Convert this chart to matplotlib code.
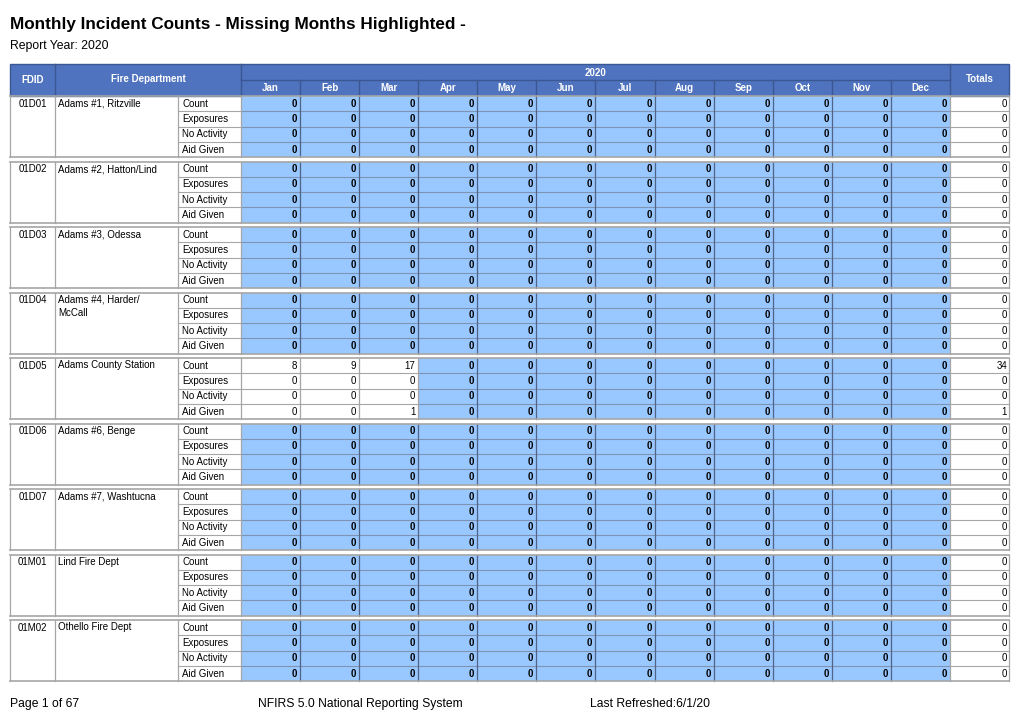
import matplotlib.pyplot as plt
from matplotlib.patches import Rectangle

plt.rcParams['font.family'] = ['Liberation Sans', 'DejaVu Sans']

report_year = "2020"
fdids = ["01D01", "01D02", "01D03", "01D04", "01D05", "01D06", "01D07", "01M01", "01M02"]
departments = ["Adams #1, Ritzville", "Adams #2, Hatton/Lind", "Adams #3, Odessa",
               "Adams #4, Harder/\nMcCall", "Adams County Station", "Adams #6, Benge",
               "Adams #7, Washtucna", "Lind Fire Dept", "Othello Fire Dept"]
measures = ["Count", "Exposures", "No Activity", "Aid Given"]
months = ["Jan", "Feb", "Mar", "Apr", "May", "Jun", "Jul", "Aug", "Sep", "Oct", "Nov", "Dec"]

# months that were actually reported (everything after is missing -> highlighted)
reported_months = [0, 0, 0, 0, 3, 0, 0, 0, 0]
# reported values for 01D05 Adams County Station
station_count = [8, 9, 17]
station_exposures = [0, 0, 0]
station_no_activity = [0, 0, 0]
station_aid_given = [0, 0, 1]
station_values = [station_count, station_exposures, station_no_activity, station_aid_given]

# colours
header_blue = "#4f73be"
header_line = "#3b5793"
missing_blue = "#99c7ff"
blue_vline = "#4f6487"
blue_hline = "#7f93b3"
grid_gray = "#a6a6a6"

W, H = 1020, 721
fig = plt.figure(figsize=(W / 100, H / 100), dpi=100)
ax = fig.add_axes([0, 0, 1, 1])
ax.set_xlim(0, W)
ax.set_ylim(H, 0)
ax.axis('off')

# column layout
x0 = 10
widths = [45, 123, 63] + [59.08] * 12 + [59]
edges = [x0]
for w in widths:
    edges.append(edges[-1] + w)
month_left = edges[3]
tot_left, tot_right = edges[15], edges[16]

head_top, head_mid, head_bot = 64, 80, 96
row_h = 15.3
group_gap = 4.3
group_h = row_h * 4

fs = 7

# title
ax.text(x0, 24, "Monthly Incident Counts - Missing Months Highlighted -", fontsize=12.3,
        fontweight='bold', va='center', ha='left')
ax.text(x0, 46.5, f"Report Year: {report_year}", fontsize=8.8, va='center', ha='left')

# header
ax.add_patch(Rectangle((x0, head_top), tot_right - x0, head_bot - head_top,
                       facecolor=header_blue, edgecolor=header_line, lw=1))
ax.plot([month_left, tot_left], [head_mid, head_mid], color=header_line, lw=1)
for xe in [edges[1], edges[3], edges[15]]:
    ax.plot([xe, xe], [head_top, head_bot], color=header_line, lw=1)
for xe in edges[4:15]:
    ax.plot([xe, xe], [head_mid, head_bot], color=header_line, lw=1)
hdr = dict(color='white', fontsize=fs, fontweight='bold', va='center', ha='center')
ax.text((edges[0] + edges[1]) / 2, (head_top + head_bot) / 2, "FDID", **hdr)
ax.text((edges[1] + edges[3]) / 2, (head_top + head_bot) / 2 - 1, "Fire Department", **hdr)
ax.text((month_left + tot_left) / 2, (head_top + head_mid) / 2 + 0.5, report_year, **hdr)
ax.text((tot_left + tot_right) / 2, (head_top + head_bot) / 2 - 1, "Totals", **hdr)
for m, month in enumerate(months):
    ax.text((edges[3 + m] + edges[4 + m]) / 2, (head_mid + head_bot) / 2, month, **hdr)

# body
for g, (fdid, dept) in enumerate(zip(fdids, departments)):
    top = head_bot + g * (group_h + group_gap)
    bot = top + group_h
    n_rep = reported_months[g]
    # missing months fill
    blue_left = edges[3 + n_rep]
    ax.add_patch(Rectangle((blue_left, top), tot_left - blue_left, group_h,
                           facecolor=missing_blue, edgecolor='none', zorder=1))
    # horizontal lines between rows
    for r in range(1, 4):
        y = top + r * row_h
        ax.plot([edges[2], blue_left], [y, y], color=grid_gray, lw=0.8, zorder=2)
        ax.plot([blue_left, tot_left], [y, y], color=blue_hline, lw=0.8, zorder=2)
        ax.plot([tot_left, tot_right], [y, y], color=grid_gray, lw=0.8, zorder=2)
    # vertical lines
    for k, xe in enumerate(edges):
        if 3 + n_rep < k < 15:
            col = blue_vline
        else:
            col = grid_gray
        ax.plot([xe, xe], [top, bot], color=col, lw=0.9, zorder=3)
    # group borders
    ax.plot([x0, tot_right], [top, top], color=grid_gray, lw=1.2, zorder=3)
    ax.plot([x0, tot_right], [bot, bot], color=grid_gray, lw=1.2, zorder=3)

    ax.text((edges[0] + edges[1]) / 2, top + row_h / 2, fdid, fontsize=fs,
            ha='center', va='center', zorder=4)
    ax.text(edges[1] + 3, top + 2.5, dept, fontsize=fs, ha='left', va='top',
            linespacing=1.35, zorder=4)
    for r, meas in enumerate(measures):
        yc = top + (r + 0.5) * row_h
        ax.text(edges[2] + 4.5, yc, meas, fontsize=fs, ha='left', va='center', zorder=4)
        total = 0
        for m in range(12):
            if m < n_rep:
                val = station_values[r][m]
                weight = 'normal'
            else:
                val = 0
                weight = 'bold'
            total += val
            ax.text(edges[4 + m] - 3, yc, str(val), fontsize=fs, fontweight=weight,
                    ha='right', va='center', zorder=4)
        ax.text(tot_right - 2, yc, str(total), fontsize=fs, ha='right', va='center', zorder=4)

# footer
ax.text(x0, 704, "Page 1 of 67", fontsize=8.7, ha='left', va='center')
ax.text(258, 704, "NFIRS 5.0 National Reporting System", fontsize=8.7, ha='left', va='center')
ax.text(590, 704, "Last Refreshed:6/1/20", fontsize=8.7, ha='left', va='center')

fig.savefig("out.png", dpi=100)
